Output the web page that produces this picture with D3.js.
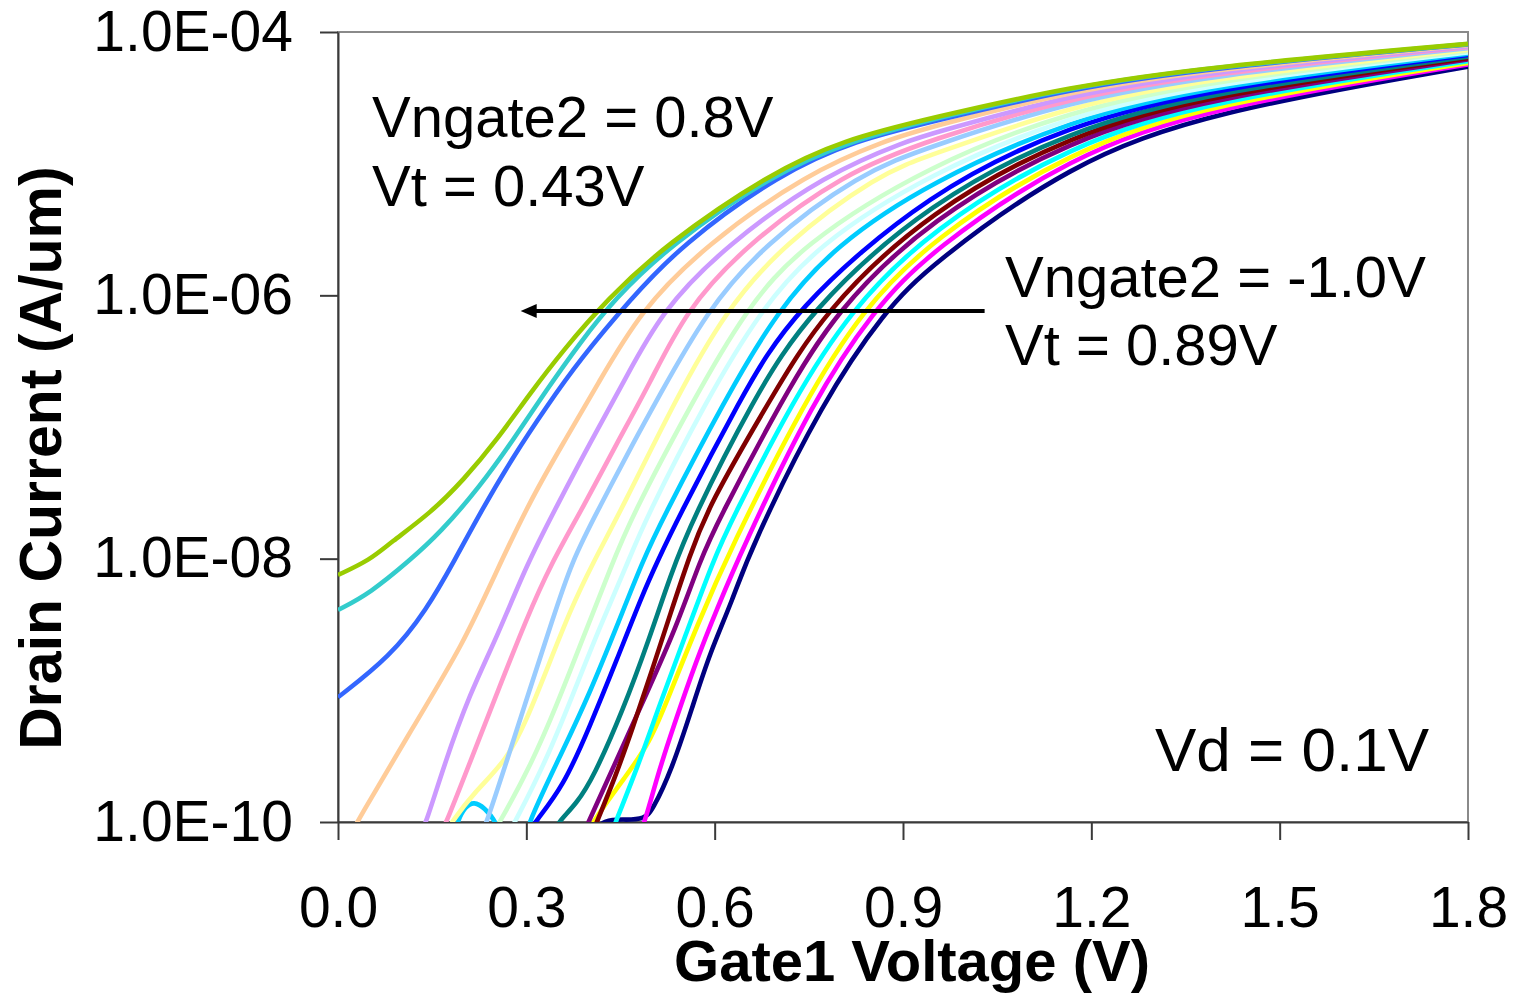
<!DOCTYPE html>
<html>
<head>
<meta charset="utf-8">
<script src="https://cdn.jsdelivr.net/npm/d3@7"></script>
<style>
  body { margin: 0; background: #fff; }
  svg { display: block; }
  text { font-family: "Liberation Sans", Arial, sans-serif; }
</style>
</head>
<body>
<svg id="chart" width="1516" height="993"></svg>
<script>
// ---------------- DATA ----------------
// Vngate2 value of each series (series order = drawing order)
const vngate2 = [-1.0, -0.9, -0.8, -0.7, -0.6, -0.5, -0.4, -0.3, -0.2, -0.1, 0.0, 0.1, 0.2, 0.3, 0.4, 0.5, 0.6, 0.7, 0.8];
const seriesColors = ["#000080", "#FF00FF", "#FFFF00", "#00FFFF", "#800080", "#800000", "#008080", "#0000FF", "#00CCFF",
  "#CCFFFF", "#CCFFCC", "#FFFF99", "#99CCFF", "#FF99CC", "#CC99FF", "#FFCC99", "#3366FF", "#33CCCC", "#99CC00"];
const xTickValues = [0.0, 0.3, 0.6, 0.9, 1.2, 1.5, 1.8];
const yTickValues = [1e-10, 1e-8, 1e-6, 1e-4];

// Each series: [Gate1 voltage (V), log10 of drain current (A/um)]
const vg_m10 = [[0.40,-10.10],[0.425,-9.975],[0.46,-9.985],[0.488,-9.975],[0.50,-9.92],[0.532,-9.60],[0.565,-9.12],[0.592,-8.72],[0.629,-8.31],[0.656,-7.934],[0.773,-6.795],[0.871,-6.12],[0.943,-5.77],[1.166,-4.997],[1.389,-4.605],[1.8,-4.263]];
const vg_m09 = [[0.475,-10.15],[0.489,-10.0],[0.508,-9.66],[0.534,-9.28],[0.571,-8.77],[0.603,-8.39],[0.643,-7.934],[0.757,-6.795],[0.852,-6.12],[0.943,-5.662],[1.166,-4.94],[1.389,-4.572],[1.8,-4.246]];
const vg_m08 = [[0.395,-10.1],[0.407,-10.0],[0.422,-9.89],[0.454,-9.68],[0.497,-9.40],[0.529,-9.02],[0.571,-8.52],[0.624,-7.934],[0.744,-6.795],[0.834,-6.12],[0.943,-5.581],[1.166,-4.899],[1.389,-4.547],[1.8,-4.234]];
const vg_m07 = [[0.435,-10.1],[0.442,-10.0],[0.476,-9.60],[0.513,-9.10],[0.553,-8.59],[0.598,-8.01],[0.627,-7.706],[0.725,-6.795],[0.815,-6.12],[0.943,-5.501],[1.166,-4.857],[1.389,-4.523],[1.8,-4.221]];
const vg_m06 = [[0.39,-10.1],[0.399,-10.0],[0.439,-9.58],[0.492,-9.02],[0.539,-8.52],[0.577,-8.01],[0.606,-7.706],[0.707,-6.795],[0.792,-6.12],[0.943,-5.419],[1.166,-4.814],[1.389,-4.498],[1.8,-4.209]];
const vg_m05 = [[0.40,-10.15],[0.412,-10.0],[0.44,-9.68],[0.47,-9.28],[0.50,-8.85],[0.53,-8.41],[0.56,-7.98],[0.59,-7.60],[0.688,-6.795],[0.773,-6.12],[0.943,-5.353],[1.166,-4.779],[1.389,-4.477],[1.8,-4.198]];
const vg_m04 = [[0.34,-10.1],[0.351,-10.0],[0.38,-9.86],[0.407,-9.66],[0.454,-9.15],[0.495,-8.62],[0.53,-8.12],[0.564,-7.706],[0.661,-6.795],[0.749,-6.12],[0.943,-5.286],[1.166,-4.744],[1.389,-4.457],[1.8,-4.188]];
const vg_m03 = [[0.30,-10.1],[0.314,-10.0],[0.359,-9.73],[0.401,-9.276],[0.444,-8.77],[0.486,-8.26],[0.51,-8.01],[0.54,-7.706],[0.64,-6.795],[0.722,-6.12],[0.943,-5.206],[1.166,-4.703],[1.389,-4.432],[1.8,-4.175]];
const vg_m02 = [[0.178,-10.25],[0.189,-10.0],[0.203,-9.88],[0.217,-9.845],[0.233,-9.89],[0.253,-10.0],[0.27,-10.25],[0.29,-10.25],[0.303,-10.0],[0.359,-9.45],[0.401,-9.022],[0.444,-8.517],[0.486,-8.01],[0.516,-7.706],[0.616,-6.795],[0.699,-6.12],[0.792,-5.62],[0.943,-5.139],[1.166,-4.668],[1.389,-4.411],[1.8,-4.165]];
const vg_m01 = [[0.27,-10.1],[0.282,-10.0],[0.332,-9.53],[0.375,-9.022],[0.417,-8.517],[0.46,-8.05],[0.489,-7.706],[0.587,-6.795],[0.672,-6.12],[0.762,-5.62],[0.943,-5.072],[1.166,-4.633],[1.389,-4.391],[1.8,-4.155]];
const vg_p00 = [[0.245,-10.1],[0.258,-10.0],[0.306,-9.58],[0.348,-9.12],[0.391,-8.593],[0.436,-8.05],[0.465,-7.706],[0.566,-6.795],[0.648,-6.12],[0.736,-5.62],[0.943,-5.006],[1.166,-4.598],[1.389,-4.37],[1.8,-4.144]];
const vg_p01 = [[0.17,-10.1],[0.181,-10.0],[0.216,-9.78],[0.269,-9.53],[0.30,-9.23],[0.332,-8.85],[0.37,-8.39],[0.404,-8.05],[0.454,-7.605],[0.537,-6.795],[0.617,-6.12],[0.707,-5.62],[0.863,-5.073],[0.943,-4.937],[1.166,-4.562],[1.389,-4.35],[1.8,-4.134]];
const vg_p02 = [[0.228,-10.1],[0.237,-10.0],[0.27,-9.52],[0.305,-9.0],[0.34,-8.49],[0.372,-8.02],[0.417,-7.605],[0.47,-7.124],[0.508,-6.795],[0.587,-6.12],[0.677,-5.62],[0.831,-5.073],[0.943,-4.870],[1.166,-4.527],[1.389,-4.329],[1.8,-4.123]];
const vg_p03 = [[0.162,-10.1],[0.173,-10.0],[0.21,-9.55],[0.255,-9.0],[0.30,-8.46],[0.338,-8.05],[0.391,-7.605],[0.444,-7.124],[0.497,-6.668],[0.553,-6.12],[0.649,-5.62],[0.805,-5.073],[0.943,-4.817],[1.166,-4.50],[1.389,-4.313],[1.8,-4.115]];
const vg_p04 = [[0.13,-10.1],[0.141,-10.0],[0.168,-9.58],[0.21,-9.022],[0.253,-8.60],[0.30,-8.05],[0.348,-7.605],[0.401,-7.124],[0.454,-6.67],[0.515,-6.12],[0.618,-5.62],[0.778,-5.073],[0.911,-4.82],[0.943,-4.775],[1.166,-4.478],[1.389,-4.30],[1.8,-4.109]];
const vg_p05 = [[0.02,-10.1],[0.030,-10.0],[0.12,-9.276],[0.20,-8.643],[0.25,-8.12],[0.306,-7.56],[0.359,-7.12],[0.412,-6.69],[0.481,-6.12],[0.585,-5.62],[0.747,-5.073],[0.874,-4.82],[0.943,-4.723],[1.166,-4.45],[1.389,-4.284],[1.8,-4.101]];
const vg_p06 = [[0.0,-9.053],[0.083,-8.744],[0.141,-8.39],[0.186,-8.01],[0.226,-7.655],[0.279,-7.225],[0.332,-6.846],[0.385,-6.49],[0.465,-6.035],[0.546,-5.62],[0.704,-5.073],[0.826,-4.82],[0.943,-4.684],[1.166,-4.43],[1.389,-4.272],[1.8,-4.094]];
const vg_p07 = [[0.0,-8.39],[0.051,-8.263],[0.115,-8.01],[0.162,-7.807],[0.226,-7.453],[0.279,-7.099],[0.332,-6.719],[0.385,-6.364],[0.439,-6.035],[0.528,-5.62],[0.695,-5.073],[0.815,-4.83],[0.943,-4.665],[1.166,-4.42],[1.389,-4.266],[1.8,-4.092]];
const vg_p08 = [[0.0,-8.124],[0.051,-8.01],[0.083,-7.88],[0.147,-7.655],[0.20,-7.402],[0.253,-7.099],[0.306,-6.744],[0.359,-6.415],[0.428,-6.035],[0.52,-5.62],[0.688,-5.073],[0.805,-4.82],[0.943,-4.655],[1.166,-4.415],[1.389,-4.263],[1.8,-4.09]];

const seriesPoints = [vg_m10, vg_m09, vg_m08, vg_m07, vg_m06, vg_m05, vg_m04, vg_m03, vg_m02, vg_m01,
  vg_p00, vg_p01, vg_p02, vg_p03, vg_p04, vg_p05, vg_p06, vg_p07, vg_p08];

// ---------------- CHART ----------------
const svg = d3.select("#chart");
const plot = { left: 338, right: 1468, top: 32, bottom: 822 };
const FONT = '"Liberation Sans", Arial, sans-serif';

const x = d3.scaleLinear().domain([0, 1.8]).range([plot.left, plot.right]);
const y = d3.scaleLog().domain([1e-10, 1e-4]).range([plot.bottom, plot.top]);

const series = vngate2.map((v, i) => ({
  vng: v,
  color: seriesColors[i],
  pts: seriesPoints[i].map(([V, L]) => ({ V: V, I: Math.pow(10, L) }))
}));

svg.append("rect").attr("width", 1516).attr("height", 993).attr("fill", "#fff");

// plot frame (top / right in grey)
svg.append("rect")
  .attr("x", plot.left).attr("y", plot.top)
  .attr("width", plot.right - plot.left).attr("height", plot.bottom - plot.top)
  .attr("fill", "none").attr("stroke", "#8a8a8a").attr("stroke-width", 2);

// clip
svg.append("defs").append("clipPath").attr("id", "clip")
  .append("rect").attr("x", plot.left).attr("y", plot.top)
  .attr("width", plot.right - plot.left).attr("height", plot.bottom - plot.top);

// axes
const fmtY = d => {
  const e = Math.round(Math.log10(d));
  return "1.0E" + (e < 0 ? "-" : "+") + String(Math.abs(e)).padStart(2, "0");
};
const yAxis = d3.axisLeft(y).tickValues(yTickValues).tickFormat(fmtY)
  .tickSize(18).tickSizeOuter(0).tickPadding(27);
const xAxis = d3.axisBottom(x).tickValues(xTickValues).tickFormat(d3.format(".1f"))
  .tickSize(18).tickSizeOuter(0).tickPadding(47);

const gy = svg.append("g").attr("transform", `translate(${plot.left},0)`).call(yAxis);
const gx = svg.append("g").attr("transform", `translate(0,${plot.bottom})`).call(xAxis);
[gx, gy].forEach(g => {
  g.attr("font-family", FONT).attr("font-size", 57);
  g.select(".domain").attr("stroke", "#3a3a3a").attr("stroke-width", 2);
  g.selectAll(".tick line").attr("stroke", "#3a3a3a").attr("stroke-width", 2);
  g.selectAll(".tick text").attr("fill", "#000");
});

// curves
const line = d3.line().x(d => x(d.V)).y(d => y(d.I)).curve(d3.curveBasis);
svg.append("g").attr("clip-path", "url(#clip)")
  .selectAll("path").data(series).join("path")
  .attr("d", d => line(d.pts))
  .attr("fill", "none")
  .attr("stroke", d => d.color)
  .attr("stroke-width", 4.6)
  .attr("stroke-linejoin", "round");

// axis titles
svg.append("text").attr("x", 912).attr("y", 981).attr("text-anchor", "middle")
  .attr("font-size", 58).attr("font-weight", "bold").text("Gate1 Voltage (V)");
svg.append("text").attr("transform", "translate(61,458) rotate(-90)").attr("text-anchor", "middle")
  .attr("font-size", 59).attr("font-weight", "bold").text("Drain Current (A/um)");

// annotations
const ann = svg.append("g").attr("font-size", 58).attr("fill", "#000");
ann.append("text").attr("x", 372).attr("y", 137).text("Vngate2 = 0.8V");
ann.append("text").attr("x", 372).attr("y", 206).text("Vt = 0.43V");
ann.append("text").attr("x", 1005).attr("y", 297).text("Vngate2 = -1.0V");
ann.append("text").attr("x", 1005).attr("y", 365).text("Vt = 0.89V");
ann.append("text").attr("x", 1155).attr("y", 771).attr("font-size", 62).text("Vd = 0.1V");

// arrow (from Vngate2 = -1.0V curve towards 0.8V curve)
const arrowI = 7.6e-7;
const ay = y(arrowI), ax0 = x(1.03), ax1 = x(0.291);
svg.append("line").attr("x1", ax0).attr("y1", ay).attr("x2", ax1 + 14).attr("y2", ay)
  .attr("stroke", "#000").attr("stroke-width", 4);
svg.append("path")
  .attr("d", `M${ax1},${ay} L${ax1 + 16},${ay - 7} L${ax1 + 16},${ay + 7} Z`)
  .attr("fill", "#000");
</script>
</body>
</html>
